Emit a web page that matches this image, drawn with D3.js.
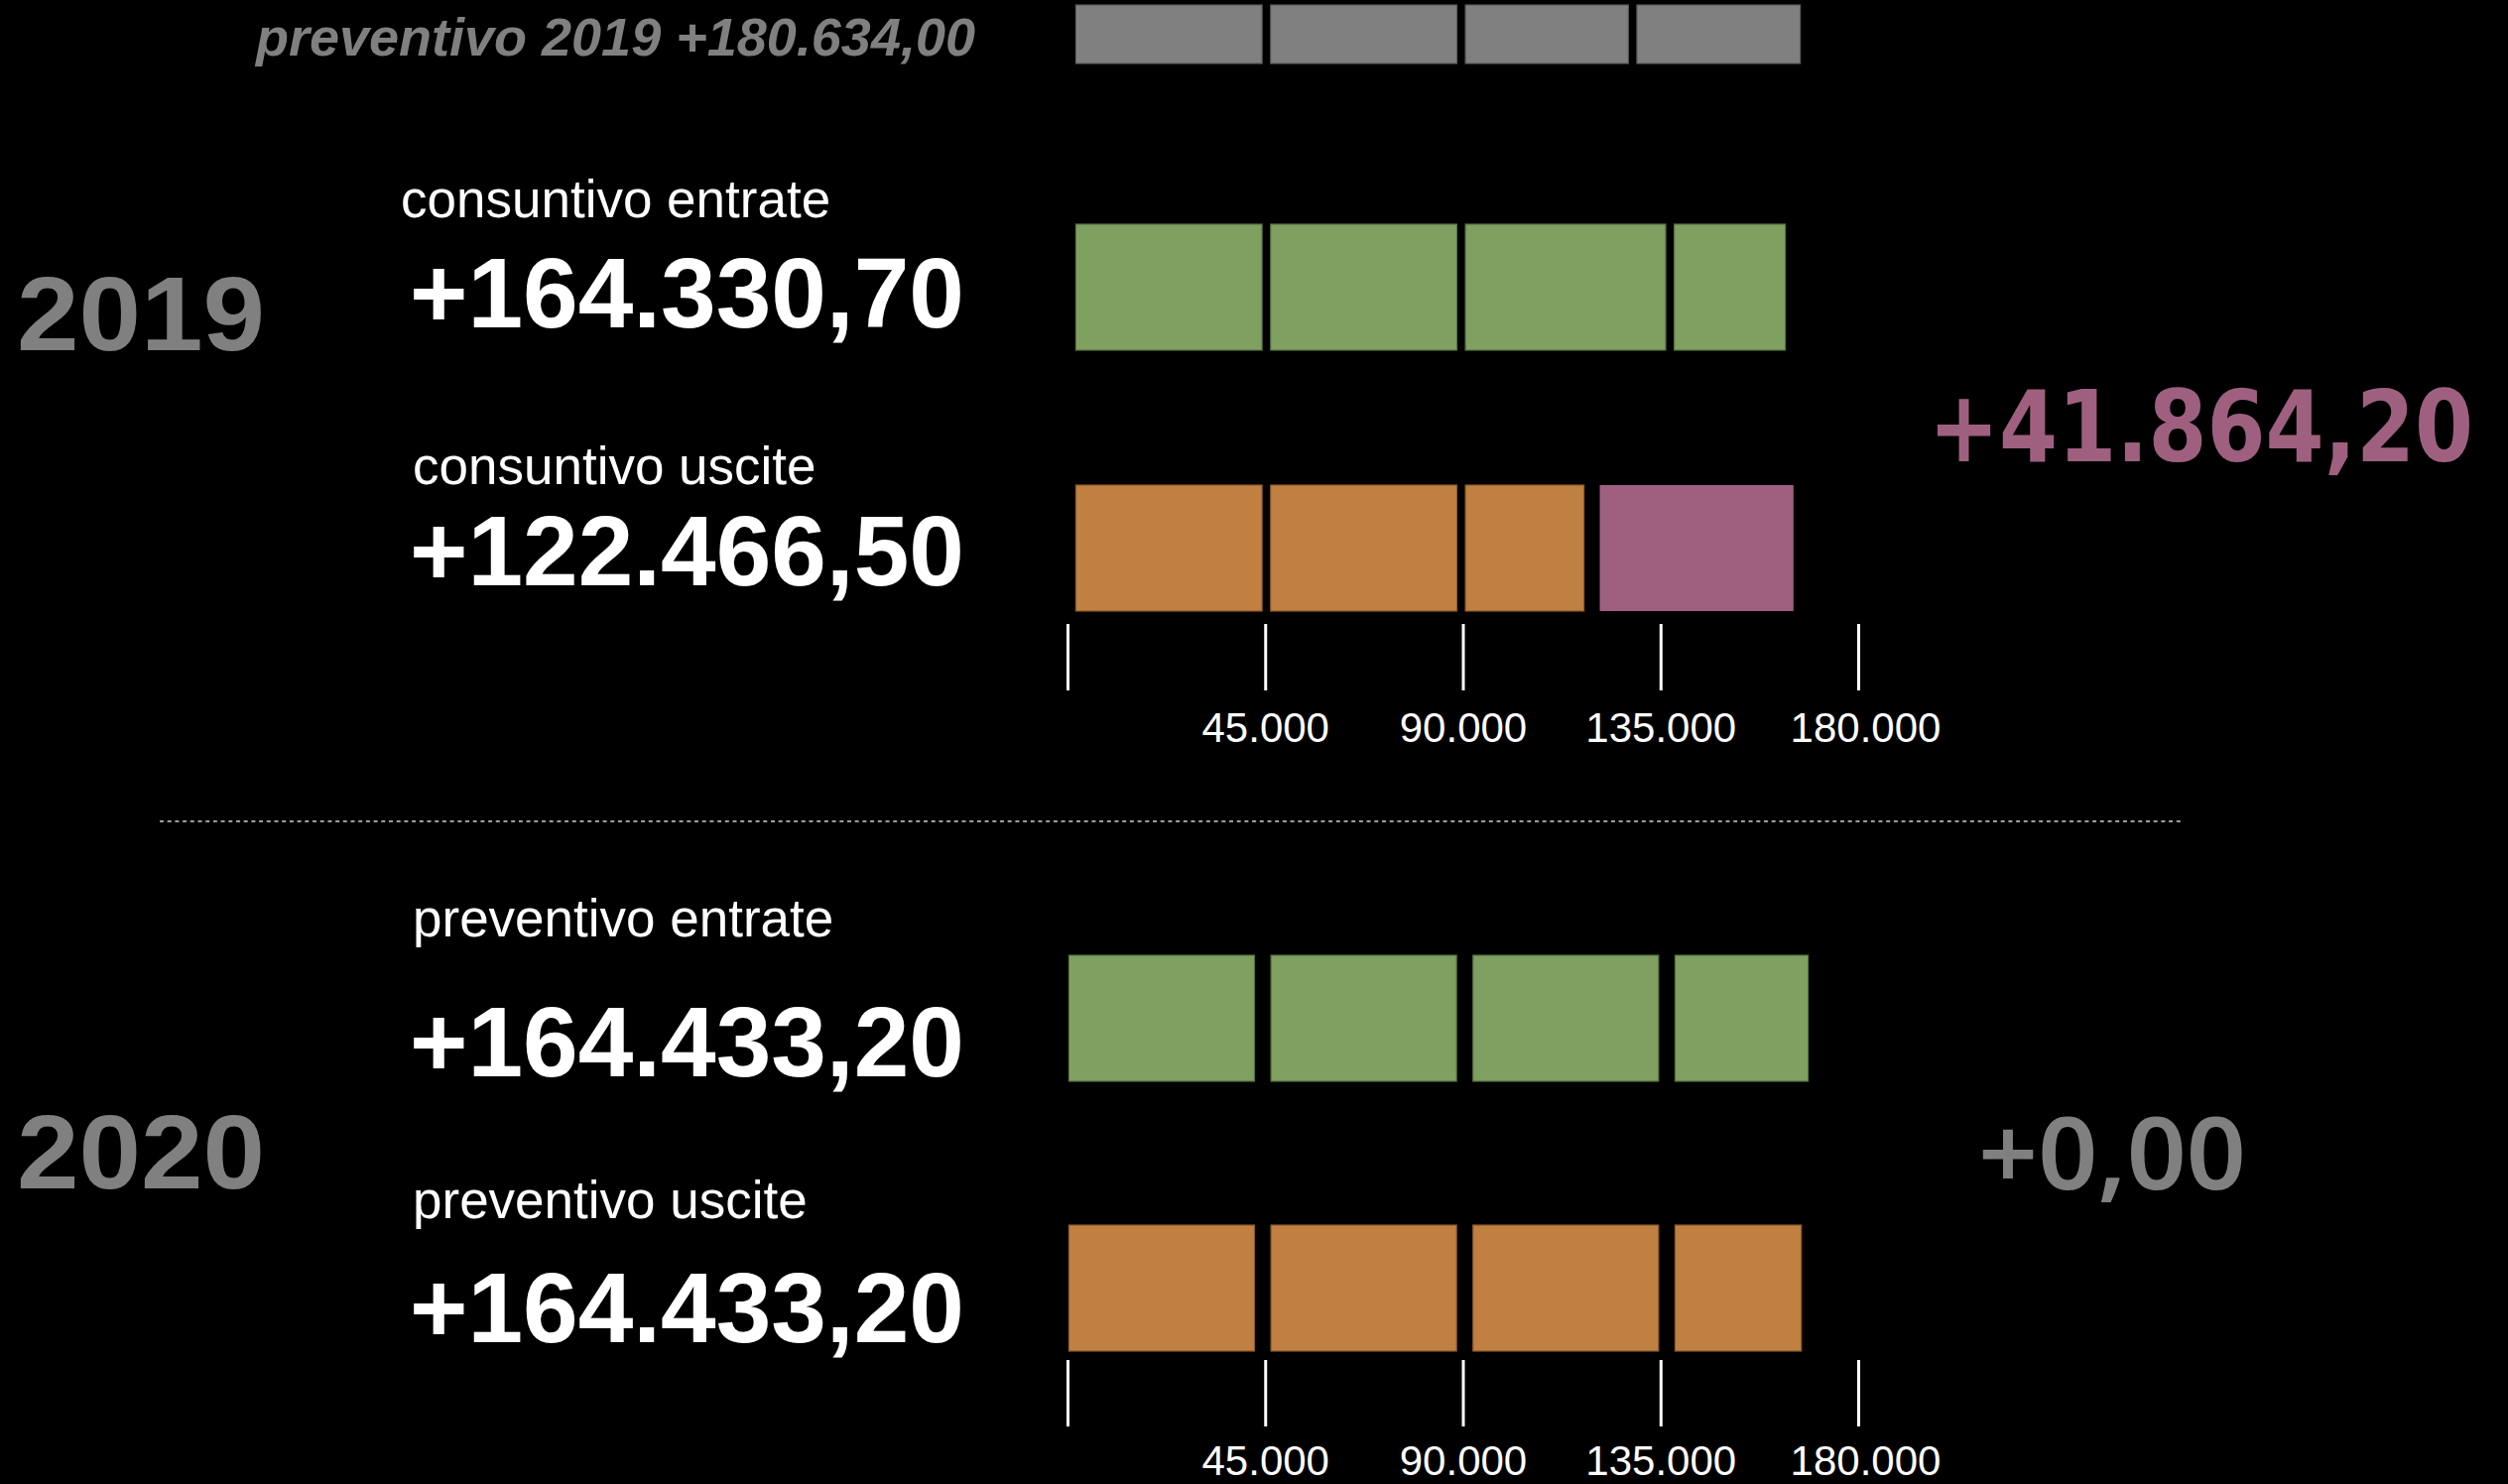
<!DOCTYPE html>
<html>
<head>
<meta charset="utf-8">
<script src="https://cdn.jsdelivr.net/npm/d3@7/dist/d3.min.js"></script>
<style>
  html, body { margin: 0; padding: 0; background: #000; }
  svg { display: block; }
</style>
</head>
<body>
<script>
// ---------------- DATA ----------------
const years = ["2019", "2020"];
const rowLabels = ["preventivo 2019", "consuntivo entrate", "consuntivo uscite", "preventivo entrate", "preventivo uscite"];

// segment values
const prev2019Segments     = [42400, 42400, 37100, 37200];
const entrate2019Segments  = [42400, 42400, 45600, 25300];
const uscite2019Segments   = [42400, 42400, 27000];
const avanzo2019Segment    = [44100];
const entrate2020Segments  = [42250, 42250, 42250, 30300];
const uscite2020Segments   = [42250, 42250, 42250, 28750];

// totals shown as text
const prev2019Total    = 180634.00;
const entrate2019Total = 164330.70;
const uscite2019Total  = 122466.50;
const avanzo2019Total  = 41864.20;
const entrate2020Total = 164433.20;
const uscite2020Total  = 164433.20;
const saldo2020Total   = 0.00;

const tickValues = [0, 45000, 90000, 135000, 180000];

// ---------------- SETUP ----------------
const W = 2528, H = 1496;
const it = d3.formatLocale({decimal: ",", thousands: ".", grouping: [3], currency: ["€", ""]});
const fmtTotal = it.format("+,.2f");
const fmtTick = it.format(",.0f");

const colors = {
  gray: "#808080", grayStroke: "#5a5a5a",
  green: "#7fa061", greenStroke: "#56703f",
  orange: "#bf8041", orangeStroke: "#8c5a2a",
  purple: "#9f6080"
};

const svg = d3.select("body").append("svg").attr("width", W).attr("height", H)
  .style("background", "#000");

const x = d3.scaleLinear().domain([0, 180000]).range([1076, 1873]);

function drawRow(values, y, h, offset, gap, fill, stroke) {
  let cum = 0;
  const segs = values.map((v, i) => {
    const s = {v, cum, i};
    cum += v;
    return s;
  });
  svg.append("g").selectAll("rect").data(segs).join("rect")
    .attr("x", d => x(d.cum) + offset + d.i * gap)
    .attr("y", y)
    .attr("width", d => x(d.v) - x(0))
    .attr("height", h)
    .attr("fill", fill)
    .attr("stroke", stroke)
    .attr("stroke-width", 1.2);
  return {cum, n: values.length};
}

// 2019
drawRow(prev2019Segments, 5, 59, 8.4, 8.6, colors.gray, colors.grayStroke);
drawRow(entrate2019Segments, 226, 127, 8.4, 8.6, colors.green, colors.greenStroke);
const u19 = drawRow(uscite2019Segments, 489, 127, 8.4, 8.6, colors.orange, colors.orangeStroke);
// surplus segment follows the outflows with a wider gap
svg.append("g").selectAll("rect").data(avanzo2019Segment).join("rect")
  .attr("x", x(u19.cum) + 8.4 + u19.n * 8.6 + 7.3)
  .attr("y", 489)
  .attr("width", d => x(d) - x(0))
  .attr("height", 127)
  .attr("fill", colors.purple);

// 2020
drawRow(entrate2020Segments, 963, 127, 1.4, 16.6, colors.green, colors.greenStroke);
drawRow(uscite2020Segments, 1235, 127, 1.4, 16.6, colors.orange, colors.orangeStroke);

// axes
function drawAxis(y, pad) {
  const ax = d3.axisBottom(x).tickValues(tickValues)
    .tickSizeInner(67).tickSizeOuter(0).tickPadding(pad)
    .tickFormat(d => d === 0 ? "" : fmtTick(d));
  const g = svg.append("g").attr("transform", `translate(0,${y})`).call(ax);
  g.select(".domain").remove();
  g.selectAll(".tick line").attr("stroke", "#fff").attr("stroke-width", 3);
  g.selectAll(".tick text").attr("fill", "#fff")
    .attr("dx", d => d === 180000 ? 7 : 0)
    .style("font-family", "'Liberation Sans', Arial, sans-serif")
    .style("font-size", "42px");
}
drawAxis(629, 22);
drawAxis(1371, 19);

// separator
svg.append("line").attr("x1", 161).attr("x2", 2201).attr("y1", 828).attr("y2", 828)
  .attr("stroke", "#cfcfcf").attr("stroke-width", 1.5).attr("stroke-dasharray", "4,3.7");

// texts
const sans = "'Liberation Sans', Arial, sans-serif";
function txt(t, xx, yy, size, opts = {}) {
  return svg.append("text").text(t)
    .attr("x", xx).attr("y", yy)
    .attr("text-anchor", opts.anchor || "start")
    .attr("fill", opts.fill || "#fff")
    .style("font-family", opts.family || sans)
    .style("font-size", size + "px")
    .style("font-weight", opts.weight || "normal")
    .style("font-style", opts.style || "normal");
}

txt(`${rowLabels[0]} ${fmtTotal(prev2019Total)}`, 983, 56, 54, {anchor: "end", fill: colors.gray, weight: "bold", style: "italic"});

txt(years[0], 17, 353, 106, {fill: colors.gray, weight: "bold"})
  .attr("textLength", 250).attr("lengthAdjust", "spacingAndGlyphs");
txt(rowLabels[1], 404, 219, 53);
txt(fmtTotal(entrate2019Total), 413, 330, 100, {weight: "bold"});
txt(rowLabels[2], 416, 488, 53);
txt(fmtTotal(uscite2019Total), 413, 590, 100, {weight: "bold"});
txt(fmtTotal(avanzo2019Total), 1944, 465, 100, {fill: colors.purple, weight: "bold", family: "'DejaVu Sans Condensed', 'DejaVu Sans', sans-serif"})
  .style("font-stretch", "condensed")
  .attr("textLength", 549).attr("lengthAdjust", "spacingAndGlyphs");

txt(years[1], 17, 1198, 106, {fill: colors.gray, weight: "bold"})
  .attr("textLength", 250).attr("lengthAdjust", "spacingAndGlyphs");
txt(rowLabels[3], 416, 944, 53);
txt(fmtTotal(entrate2020Total), 413, 1085, 100, {weight: "bold"});
txt(rowLabels[4], 416, 1228, 53);
txt(fmtTotal(uscite2020Total), 413, 1353, 100, {weight: "bold"});
txt(fmtTotal(saldo2020Total), 1994, 1199, 102, {fill: colors.gray, weight: 600, family: "'Noto Sans', 'Open Sans', sans-serif"})
  .attr("textLength", 270).attr("lengthAdjust", "spacingAndGlyphs");
</script>
</body>
</html>
